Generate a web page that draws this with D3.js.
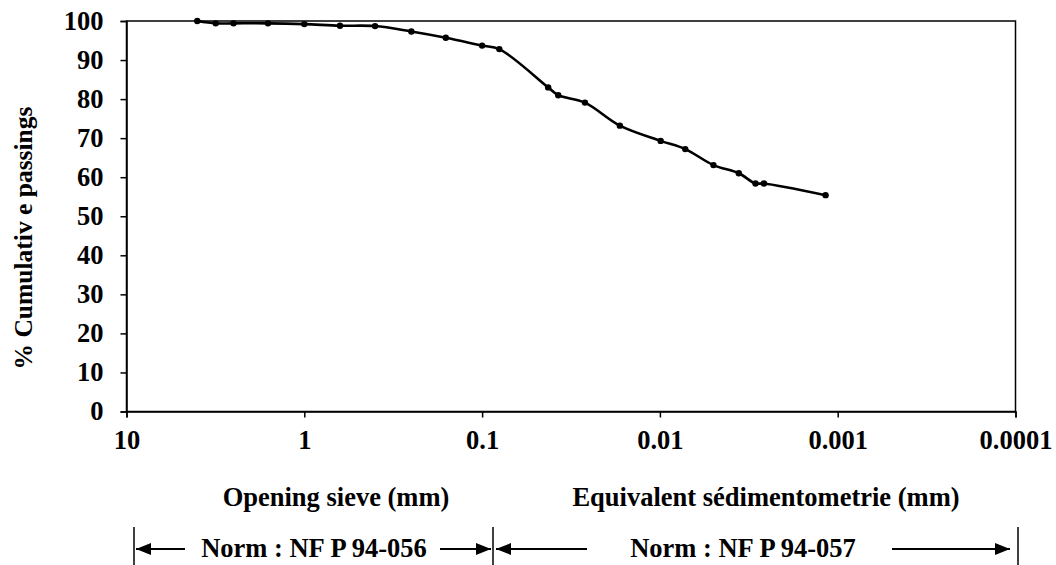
<!DOCTYPE html>
<html>
<head>
<meta charset="utf-8">
<script src="https://cdn.jsdelivr.net/npm/d3@7"></script>
<style>
  body { margin: 0; background: #fff; }
  svg text { font-family: "Liberation Serif", "Times New Roman", serif; font-weight: bold; fill: #000; }
</style>
</head>
<body>
<svg id="chart" width="1056" height="565"></svg>
<script>
// particle size (mm) and cumulative passing (%)
const sieveSizes = [4, 3.15, 2.5, 1.6, 1, 0.63, 0.4, 0.25, 0.16, 0.1, 0.08];
const sievePassing = [100, 99.4, 99.4, 99.4, 99.2, 98.8, 98.7, 97.3, 95.7, 93.7, 92.8];
const sedimSizes = [0.0425, 0.0373, 0.0264, 0.0168, 0.0099, 0.0072, 0.005, 0.0036, 0.0029, 0.0026, 0.00117];
const sedimPassing = [83.0, 81.0, 79.1, 73.2, 69.3, 67.2, 63.1, 61.0, 58.4, 58.4, 55.4];

const xTicks = [10, 1, 0.1, 0.01, 0.001, 0.0001];
const yTicks = [0, 10, 20, 30, 40, 50, 60, 70, 80, 90, 100];

const yTitle = "% Cumulativ e passings";
const xTitles = ["Opening sieve (mm)", "Equivalent sédimentometrie (mm)"];
const norms = ["Norm : NF P 94-056", "Norm : NF P 94-057"];

const data = sieveSizes.map((d, i) => ({ size: d, pass: sievePassing[i] }))
  .concat(sedimSizes.map((d, i) => ({ size: d, pass: sedimPassing[i] })));

const svg = d3.select("#chart");
const margin = { top: 21, right: 40.5, bottom: 153.5, left: 126.5 };
const width = 1056 - margin.left - margin.right;
const height = 565 - margin.top - margin.bottom;
const fontSize = 26.5;

const g = svg.append("g")
  .attr("transform", `translate(${margin.left},${margin.top})`);

const x = d3.scaleLog().domain([10, 0.0001]).range([0, width]);
const y = d3.scaleLinear().domain([0, 100]).range([height, 0]);

// frame
g.append("rect")
  .attr("width", width)
  .attr("height", height)
  .attr("fill", "none")
  .attr("stroke", "#000")
  .attr("stroke-width", 1.5);

const xAxis = g.append("g")
  .attr("transform", `translate(0,${height})`)
  .call(d3.axisBottom(x).tickValues(xTicks).tickSize(6).tickPadding(13));

const yAxis = g.append("g")
  .call(d3.axisLeft(y).tickValues(yTicks).tickSize(6).tickPadding(17));

[xAxis, yAxis].forEach((a) => {
  a.select(".domain").attr("stroke", "#000").attr("stroke-width", 1.5);
  a.selectAll(".tick line").attr("stroke", "#000").attr("stroke-width", 1.5);
  a.selectAll(".tick text")
    .style("font-family", "'Liberation Serif', 'Times New Roman', serif")
    .style("font-weight", "bold")
    .style("font-size", fontSize + "px")
    .attr("fill", "#000");
});
xAxis.selectAll(".tick text").text((d) => (d < 0.001 ? "0.0001" : d3.format("~g")(d)));

// curve
const line = d3.line()
  .x((d) => x(d.size))
  .y((d) => y(d.pass))
  .curve(d3.curveCatmullRom);

g.append("path")
  .datum(data)
  .attr("d", line)
  .attr("fill", "none")
  .attr("stroke", "#000")
  .attr("stroke-width", 2.6);

g.selectAll(".pt")
  .data(data)
  .enter()
  .append("circle")
  .attr("class", "pt")
  .attr("cx", (d) => x(d.size))
  .attr("cy", (d) => y(d.pass))
  .attr("r", 3.2)
  .attr("fill", "#000");

// y title
svg.append("text")
  .attr("transform", "translate(32,238) rotate(-90)")
  .attr("text-anchor", "middle")
  .style("font-size", "25.5px")
  .text(yTitle);

// x titles
svg.append("text")
  .attr("x", 336).attr("y", 506)
  .attr("text-anchor", "middle")
  .style("font-size", fontSize + "px")
  .text(xTitles[0]);

svg.append("text")
  .attr("x", 766).attr("y", 506)
  .attr("text-anchor", "middle")
  .style("font-size", fontSize + "px")
  .text(xTitles[1]);

// norm ranges with arrows
const defs = svg.append("defs");
defs.append("marker")
  .attr("id", "head")
  .attr("viewBox", "0 0 15 12")
  .attr("refX", 15).attr("refY", 6)
  .attr("markerWidth", 15).attr("markerHeight", 12)
  .attr("markerUnits", "userSpaceOnUse")
  .attr("orient", "auto")
  .append("path")
  .attr("d", "M0,0L15,6L0,12Z")
  .attr("fill", "#000");

const rowY = 549;
[134, 493, 1018].forEach((bx) => {
  svg.append("line")
    .attr("x1", bx).attr("x2", bx)
    .attr("y1", 527).attr("y2", 565)
    .attr("stroke", "#000").attr("stroke-width", 1.5);
});

const arrows = [[185, 136], [440, 491], [587, 496], [892, 1010]];
arrows.forEach(([from, to]) => {
  svg.append("line")
    .attr("x1", from).attr("x2", to)
    .attr("y1", rowY).attr("y2", rowY)
    .attr("stroke", "#000").attr("stroke-width", 1.8)
    .attr("marker-end", "url(#head)");
});

svg.append("text")
  .attr("x", 314).attr("y", 557)
  .attr("text-anchor", "middle")
  .style("font-size", fontSize + "px")
  .text(norms[0]);

svg.append("text")
  .attr("x", 743).attr("y", 557)
  .attr("text-anchor", "middle")
  .style("font-size", fontSize + "px")
  .text(norms[1]);
</script>
</body>
</html>
